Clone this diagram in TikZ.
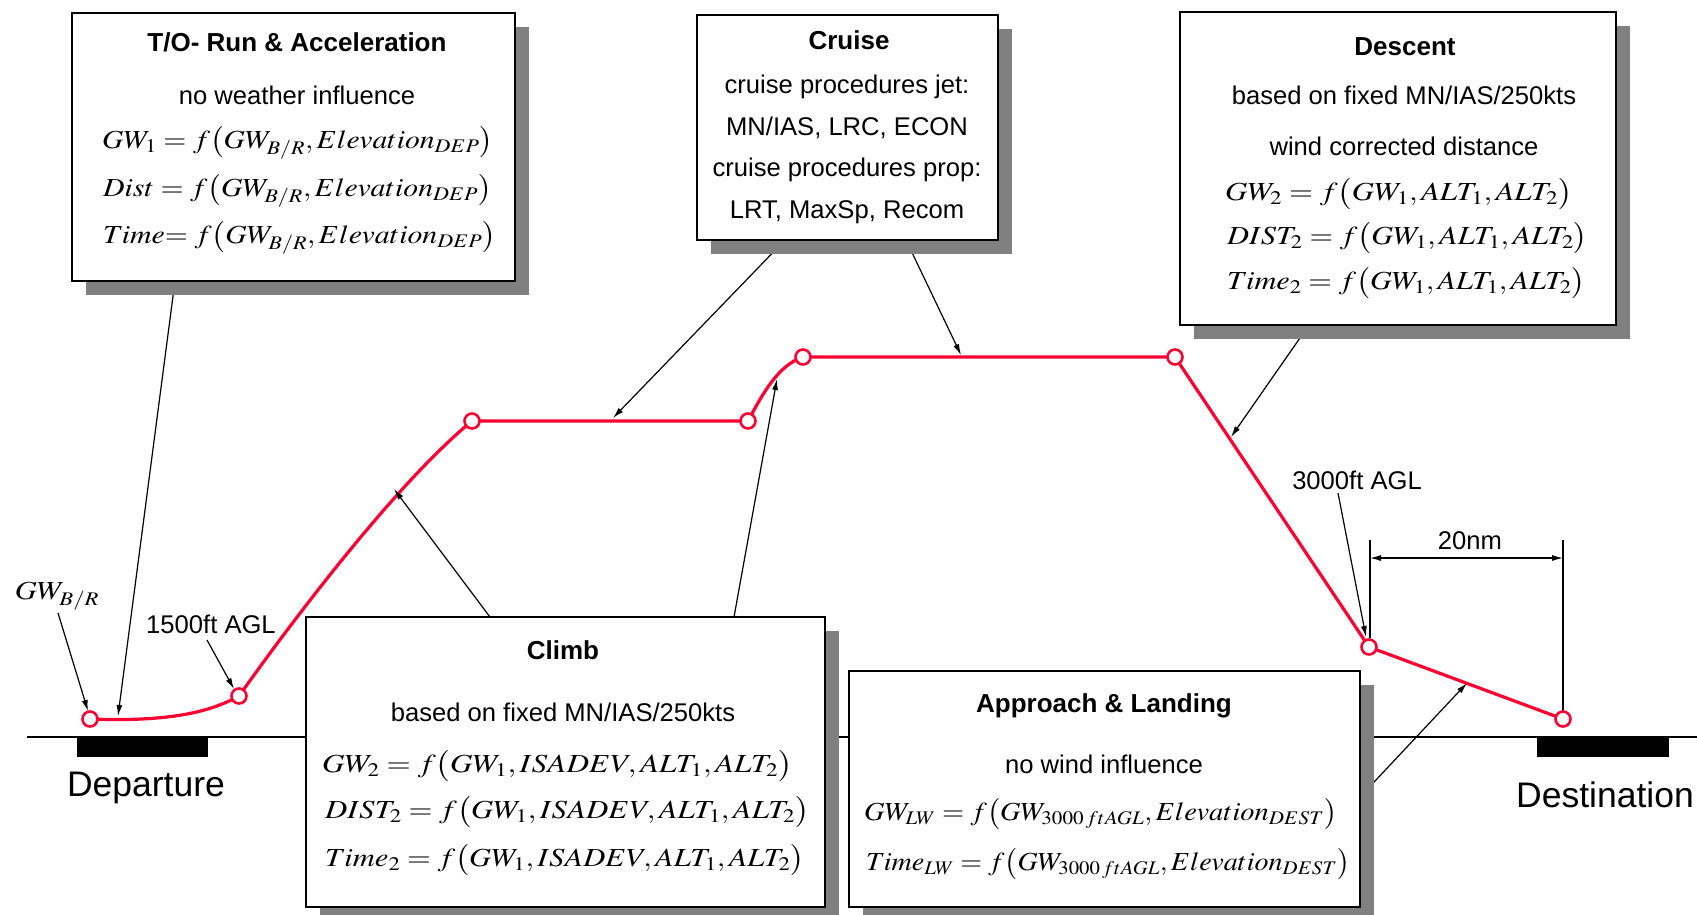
\documentclass[tikz,border=0pt]{standalone}
\usepackage{mathptmx}
\usepackage[no-math]{fontspec}
\setmainfont{Liberation Sans}
\usetikzlibrary{arrows.meta,shadows}
\definecolor{pathred}{RGB}{255,0,51}
\definecolor{shadowgray}{RGB}{128,128,128}
\newcommand{\hsc}[2]{\scalebox{#1}[1]{#2}}
\tikzset{
  box/.style={draw=black, line width=2.8pt, fill=white, inner sep=0pt,
    drop shadow={shadow xshift=14pt, shadow yshift=-14pt, fill=shadowgray, opacity=1}},
  txt/.style={inner sep=0pt, font=\fontsize{25.6}{29}\selectfont},
  ttl/.style={inner sep=0pt, font=\fontsize{26}{30}\selectfont\bfseries},
  big/.style={inner sep=0pt, font=\fontsize{35.5}{40}\selectfont},
  eq/.style={anchor=west, inner sep=0pt, font=\fontsize{26}{30}\selectfont},
  arr/.style={-{Latex[length=11pt,width=6pt]}, line width=1.2pt},
  dim/.style={line width=1.2pt},
  redline/.style={draw=pathred, line width=3.2pt, line cap=round, line join=round},
  pt/.style={circle, draw=pathred, fill=white, line width=2.6pt, minimum size=15pt, inner sep=0pt}
}
\begin{document}
\begin{tikzpicture}[x=1pt,y=-1pt]
\useasboundingbox (0,0) rectangle (1697,914);

% ground and runways
\coordinate (g0) at (27,737);
\coordinate (g1) at (1697,737);
\draw[line width=1.4pt] (g0) -- (g1);
\fill[black] (77,738) rectangle (208,757);
\fill[black] (1537,738) rectangle (1669,757);
\node[big] (dep) at (146,788) {Departure};
\node[big] (dest) at (1605,795) {Destination};

% flight path points
\coordinate (p0) at (90,719);
\coordinate (p1) at (239,696);
\coordinate (p2) at (472,421);
\coordinate (p3) at (748,421);
\coordinate (p4) at (803,357);
\coordinate (p5) at (1175,357);
\coordinate (p6) at (1369,647);
\coordinate (p7) at (1563,719);

% arrow free ends
\coordinate (toS) at (175,281);   \coordinate (toT) at (118,716);
\coordinate (crS1) at (785,240);  \coordinate (crT1) at (613,418);
\coordinate (crS2) at (906,240);  \coordinate (crT2) at (961,355);
\coordinate (deS) at (1309,325);  \coordinate (deT) at (1231,437);
\coordinate (clS1) at (490,617);  \coordinate (clT1) at (394,489);
\coordinate (clS2) at (734,617);  \coordinate (clT2) at (777,379);
\coordinate (apS) at (1360,797);  \coordinate (apT) at (1467,683);
\coordinate (gwS) at (58,613);    \coordinate (gwT) at (88,711);
\coordinate (aS) at (207,640);    \coordinate (aT) at (234,689);
\coordinate (bS) at (1338,493);   \coordinate (bT) at (1366,637);

% red flight path
\draw[redline] (p0) .. controls (170,722) and (210,712) .. (p1)
  .. controls (300,610) and (400,480) .. (p2) -- (p3)
  .. controls (762,395) and (778,365) .. (p4) -- (p5) -- (p6) -- (p7);

% dimension 20nm
\coordinate (d1) at (1370,540); \coordinate (d1b) at (1370,638);
\coordinate (d2) at (1563,540); \coordinate (d2b) at (1563,711);
\coordinate (h1) at (1370,558); \coordinate (h2) at (1563,558);
\draw[dim] (d1) -- (d1b);
\draw[dim] (d2) -- (d2b);
\draw[dim, {Latex[length=11pt,width=6pt]}-{Latex[length=11pt,width=6pt]}] (h1) -- (h2);
\node[txt] (nm) at (1470,541) {20nm};

% arrows (drawn under boxes)
\draw[arr] (toS) -- (toT);
\draw[arr] (crS1) -- (crT1);
\draw[arr] (crS2) -- (crT2);
\draw[arr] (deS) -- (deT);
\draw[arr] (clS1) -- (clT1);
\draw[arr] (clS2) -- (clT2);
\draw[arr] (apS) -- (apT);
\draw[arr] (gwS) -- (gwT);
\draw[arr] (aS) -- (aT);
\draw[arr] (bS) -- (bT);

% points
\foreach \i in {0,...,7} { \node[pt] (c\i) at (p\i) {}; }

% labels
\node[inner sep=0pt, font=\fontsize{26}{30}\selectfont] (gwbr) at (57,596) {\hsc{1.18}{$GW_{B/R}$}};
\node[txt] (l1500) at (211,624) {1500ft AGL};
\node[txt] (l3000) at (1357,480) {3000ft AGL};

% T/O box
\node[box, minimum width=443pt, minimum height=268pt] (tobox) at (293.5,147) {};
\node[ttl] (tot) at (297,42) {T/O- Run \& Acceleration};
\node[txt] (tos) at (297,95) {no weather influence};
\node[eq] (toe1) at (102,143) {\hsc{1.14}{$GW_1 = f\bigl(GW_{B/R}, Elevation_{DEP}\bigr)$}};
\node[eq] (toe2) at (103,191) {\hsc{1.145}{$Dist = f\bigl(GW_{B/R}, Elevation_{DEP}\bigr)$}};
\node[eq] (toe3) at (103,238) {\hsc{1.145}{$Time{=}\;f\bigl(GW_{B/R}, Elevation_{DEP}\bigr)$}};

% Cruise box
\node[box, minimum width=301pt, minimum height=225pt] (crbox) at (847.5,127.5) {};
\node[ttl] (crt) at (849,40) {Cruise};
\node[txt] (cr1) at (847,87) {cruise procedures jet:};
\node[txt] (cr2) at (847,128) {MN/IAS, LRC, ECON};
\node[txt] (cr3) at (847,170) {cruise procedures prop:};
\node[txt] (cr4) at (847,212) {LRT, MaxSp, Recom};

% Descent box
\node[box, minimum width=436pt, minimum height=313pt] (debox) at (1398,168.5) {};
\node[ttl] (det) at (1405,47) {Descent};
\node[txt] (de1) at (1404,95) {based on fixed MN/IAS/250kts};
\node[txt] (de2) at (1404,146) {wind corrected distance};
\node[eq] (dee1) at (1225,194) {\hsc{1.19}{$GW_2 = f\bigl(GW_1, ALT_1, ALT_2\bigr)$}};
\node[eq] (dee2) at (1227,238) {\hsc{1.17}{$DIST_2 = f\bigl(GW_1, ALT_1, ALT_2\bigr)$}};
\node[eq] (dee3) at (1227,283) {\hsc{1.165}{$Time_2 = f\bigl(GW_1, ALT_1, ALT_2\bigr)$}};

% Climb box
\node[box, minimum width=519pt, minimum height=290pt] (clbox) at (565.5,762) {};
\node[ttl] (clt) at (563,650) {Climb};
\node[txt] (cl1) at (563,712) {based on fixed MN/IAS/250kts};
\node[eq] (cle1) at (322,766) {\hsc{1.2}{$GW_2 = f\bigl(GW_1, ISADEV, ALT_1, ALT_2\bigr)$}};
\node[eq] (cle2) at (325,812) {\hsc{1.185}{$DIST_2 = f\bigl(GW_1, ISADEV, ALT_1, ALT_2\bigr)$}};
\node[eq] (cle3) at (325,860) {\hsc{1.175}{$Time_2 = f\bigl(GW_1, ISADEV, ALT_1, ALT_2\bigr)$}};

% Approach box
\node[box, minimum width=511pt, minimum height=236pt] (apbox) at (1104.5,789) {};
\node[ttl] (apt) at (1104,706) {Approach \& Landing};
\node[txt] (ap1) at (1104,764) {no wind influence};
\node[eq] (ape1) at (864,814) {\hsc{1.095}{$GW_{LW} = f\bigl(GW_{3000\,ftAGL}, Elevation_{DEST}\bigr)$}};
\node[eq] (ape2) at (866,864) {\hsc{1.08}{$Time_{LW} = f\bigl(GW_{3000\,ftAGL}, Elevation_{DEST}\bigr)$}};
\end{tikzpicture}
\end{document}
